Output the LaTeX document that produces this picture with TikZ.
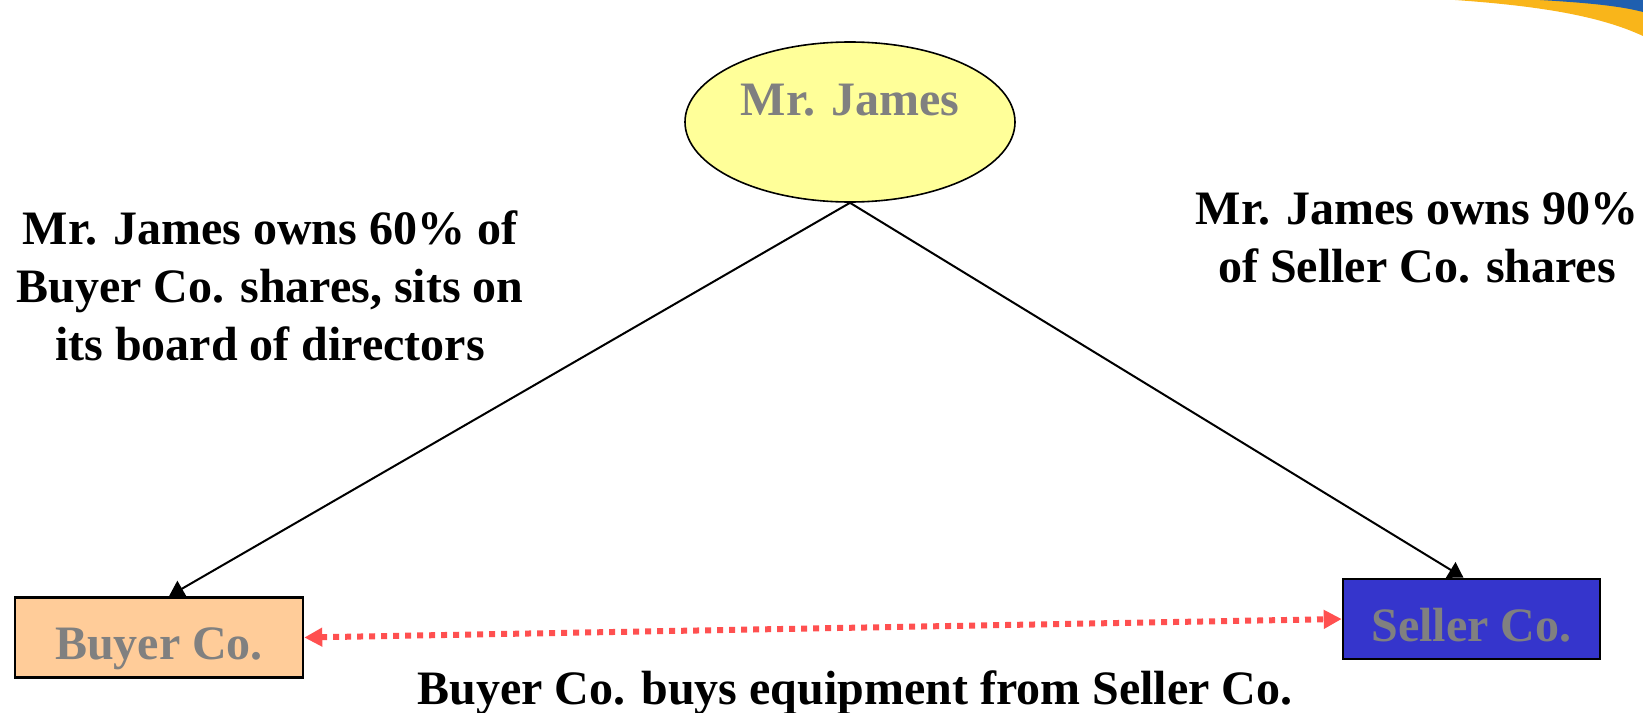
\documentclass[tikz,border=0pt]{standalone}
\usepackage{fontspec}
\setmainfont{Liberation Serif}
\usepackage{xcolor}
\usetikzlibrary{shapes.geometric,arrows.meta}

\definecolor{namegray}{HTML}{808080}
\definecolor{jamesyellow}{HTML}{FFFF99}
\definecolor{buyerorange}{HTML}{FFCC99}
\definecolor{sellerblue}{HTML}{3535CC}
\definecolor{salered}{HTML}{FF5050}
\definecolor{swooshyellow}{HTML}{F9B51A}
\definecolor{swooshblue}{HTML}{1F5FAF}

\begin{document}
\begin{tikzpicture}[x=0.5pt, y=-0.5pt,
  every node/.style={font=\bfseries\fontsize{24}{29}\selectfont},
  person/.style={ellipse, draw, line width=0.8pt, fill=jamesyellow, minimum width=165pt, minimum height=80pt},
  company/.style={rectangle, draw, line width=1.3pt, text=namegray, minimum height=40pt,
    text height=22pt, text depth=0pt},
  owns/.style={line width=1pt, -{Triangle[width=9pt,length=7.5pt]}},
  sale/.style={draw=salered, line width=3pt, dash pattern=on 3pt off 3pt,
    {Triangle[width=9pt,length=9pt]}-{Triangle[width=9pt,length=9pt]}},
]
\useasboundingbox (0,0) rectangle (1643,712);

% Swoosh in the corner
\fill[swooshyellow] (1455,0) .. controls (1540,6) and (1600,16) .. (1643,36) -- (1643,0) -- cycle;
\fill[swooshblue] (1540,0) .. controls (1590,3) and (1620,6) .. (1643,12) -- (1643,0) -- cycle;

% People and companies
\node[person, label={[text=namegray, yshift=11pt]center:Mr. James}] (james) at (850,122) {};
\node[company, fill=buyerorange, minimum width=144pt] (buyer) at (159,637.5) {Buyer Co.};
\node[company, fill=sellerblue, minimum width=128.5pt] (seller) at (1471.5,619) {Seller Co.};

% Ownership
\draw[owns] (james.south) -- ([xshift=5pt]buyer.north);
\draw[owns] (james.south) -- ([xshift=-4pt]seller.north);

% Sale
\draw[sale] (buyer.east) -- (seller.west);

% Annotations
\node[align=center] (buyernote) at (270,286) {Mr. James owns 60\% of\\Buyer Co. shares, sits on\\its board of directors};
\node[align=center] (sellernote) at (1417,238) {Mr. James owns 90\%\\of Seller Co. shares};
\node (salenote) at (855,693) {Buyer Co. buys equipment from Seller Co.};
\end{tikzpicture}
\end{document}
